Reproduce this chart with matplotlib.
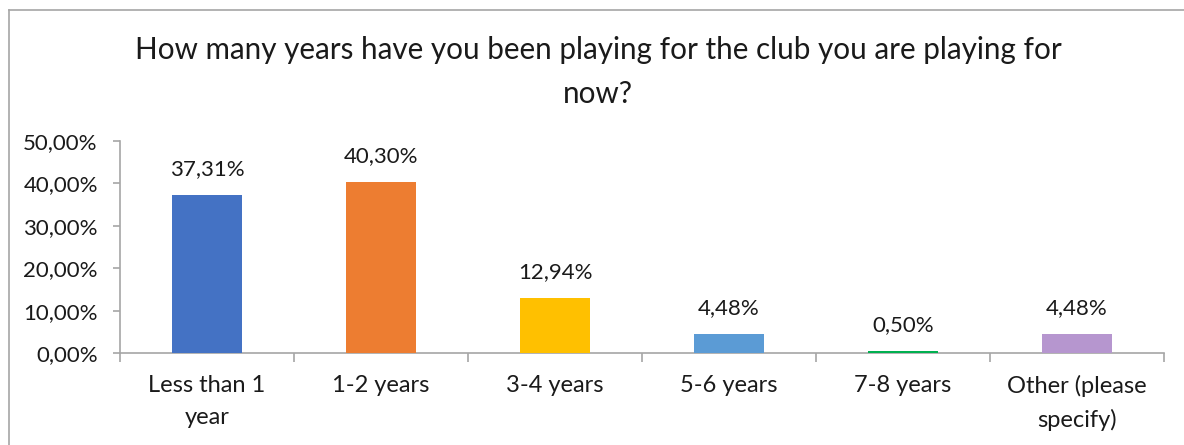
import matplotlib
matplotlib.use("Agg")
import matplotlib.pyplot as plt
from matplotlib.lines import Line2D
from matplotlib.ticker import FuncFormatter

categories = ["Less than 1\nyear", "1-2 years", "3-4 years", "5-6 years", "7-8 years", "Other (please\nspecify)"]
shares = [37.31, 40.30, 12.94, 4.48, 0.50, 4.48]
bar_colors = ["#4472C4", "#ED7D31", "#FFC000", "#5B9BD5", "#00B050", "#B696CF"]
y_ticks = [0, 10, 20, 30, 40, 50]

TITLE = "How many years have you been playing for the club you are playing for\nnow?"
FONT = ["Lato", "DejaVu Sans"]
TEXT_COLOR = "#1a1a1a"
AXIS_COLOR = "#a6a6a6"


def pct(v):
    return f"{v:.2f}".replace(".", ",") + "%"


plt.rcParams["font.family"] = FONT

fig = plt.figure(figsize=(11.84, 4.45), dpi=100)
ax = fig.add_axes([120 / 1184, 1 - 353 / 445, 1044 / 1184, 212 / 445])

x = list(range(len(categories)))
ax.bar(x, shares, width=0.40, color=bar_colors, zorder=3)

for xi, v in zip(x, shares):
    ax.annotate(pct(v), (xi, v), xytext=(0, 14.5), textcoords="offset points",
                ha="center", va="baseline", fontsize=16, color=TEXT_COLOR)

ax.set_xlim(-0.5, len(categories) - 0.5)
ax.set_ylim(0, 50)
ax.set_yticks(y_ticks)
ax.yaxis.set_major_formatter(FuncFormatter(lambda v, _: pct(v)))

ax.set_xticks(x)
ax.set_xticklabels(categories, fontsize=17, color=TEXT_COLOR, linespacing=1.62)
ax.set_xticks([i - 0.5 for i in range(len(categories) + 1)], minor=True)
ax.tick_params(axis="x", which="major", length=0, pad=16)
ax.tick_params(axis="x", which="minor", length=6.5, width=1.2, color=AXIS_COLOR)
ax.tick_params(axis="y", length=5, width=1.2, color=AXIS_COLOR, labelsize=16,
               labelcolor=TEXT_COLOR, pad=11)

for side in ("top", "right"):
    ax.spines[side].set_visible(False)
for side in ("left", "bottom"):
    ax.spines[side].set_color(AXIS_COLOR)
    ax.spines[side].set_linewidth(1.2)
    ax.spines[side].set_zorder(2)

fig.text(598 / 1184, 1 - 36 / 445, TITLE, ha="center", va="top", fontsize=21.3,
         color=TEXT_COLOR, linespacing=1.68)

# chart frame, only the left and top edges fall inside the canvas
bx, by = 9 / 1184, 1 - 10 / 445
fig.add_artist(Line2D([bx, bx], [-0.05, by], transform=fig.transFigure, color=AXIS_COLOR, lw=1.2))
fig.add_artist(Line2D([bx, 1.05], [by, by], transform=fig.transFigure, color=AXIS_COLOR, lw=1.2))

fig.savefig("out.png", dpi=100, facecolor="white")
